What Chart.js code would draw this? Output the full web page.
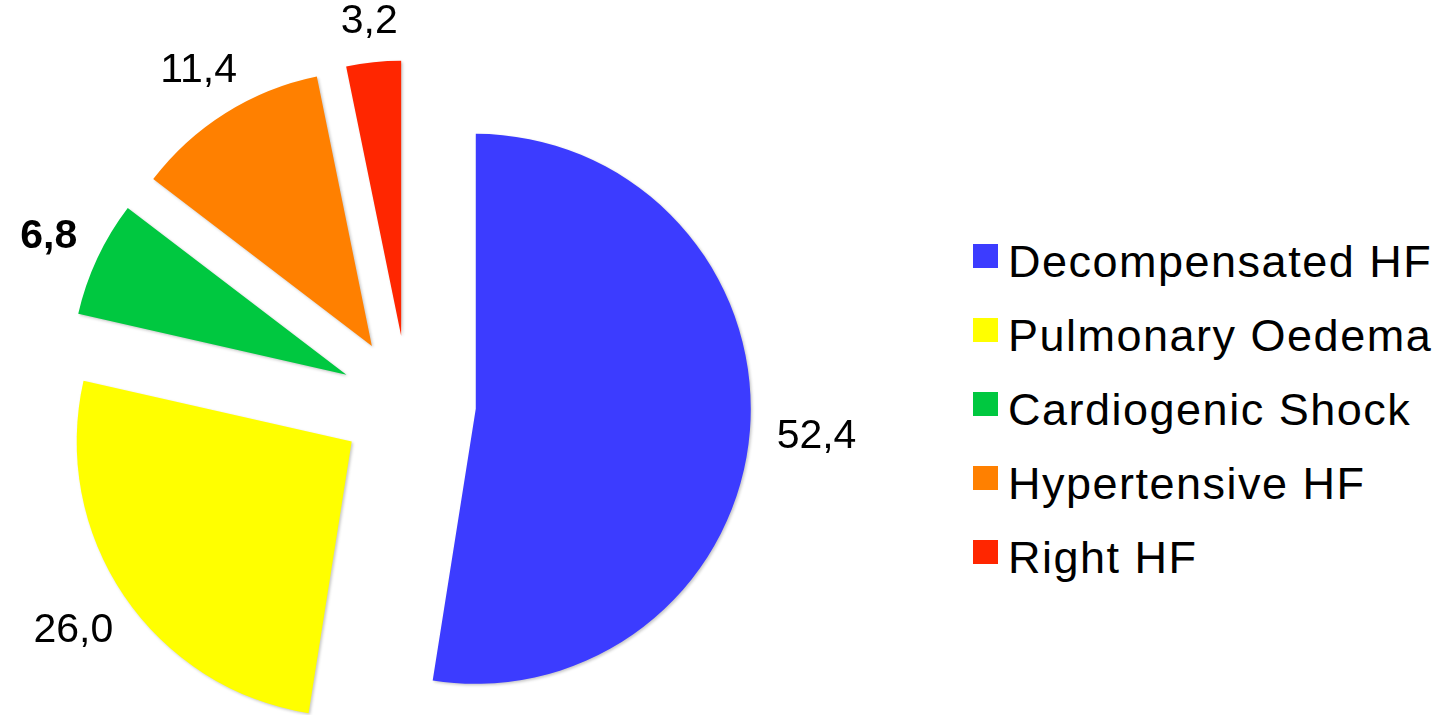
<!DOCTYPE html>
<html>
<head>
<meta charset="utf-8">
<title>Heart failure presentation</title>
<script src="https://cdn.jsdelivr.net/npm/chart.js@4.4.1/dist/chart.umd.min.js"></script>
<style>
  html, body { margin: 0; padding: 0; background: #fff; }
  #stage { position: relative; width: 1441px; height: 715px; overflow: hidden; }
  #hfChart { position: absolute; left: 0; top: 0; }
  #hfLegend { position: absolute; left: 973px; top: 0; font-family: "Liberation Sans", Arial, Helvetica, sans-serif; }
  .lg-row { position: absolute; left: 0; height: 45px; white-space: nowrap; }
  .lg-box { position: absolute; left: 0; top: 5px; width: 25px; height: 24px; }
  .lg-text { position: absolute; left: 35px; top: 0; font-size: 45px; line-height: 45px; letter-spacing: 1.5px; color: #000; }
</style>
</head>
<body>
<div id="stage">
  <canvas id="hfChart" width="940" height="715"></canvas>
  <div id="hfLegend"></div>
</div>
<script>
// ---- data ----
const categories  = ['Decompensated HF', 'Pulmonary Oedema', 'Cardiogenic Shock', 'Hypertensive HF', 'Right HF'];
const shares      = [52.4, 26.0, 6.8, 11.4, 3.2];
const sliceColors = ['#3c3cff', '#ffff00', '#00c840', '#ff8000', '#ff2600'];
const boldValue   = [false, false, true, false, false];

const EXPLODE   = 68;   // how far each slice is pulled away from the centre
const LABEL_GAP = 27;   // space between a slice rim and its value label

// every slice is pushed out along its own bisector, with a soft drop shadow
const baseArcDraw = Chart.ArcElement.prototype.draw;
Chart.ArcElement.prototype.draw = function (ctx) {
  const mid = (this.startAngle + this.endAngle) / 2;
  ctx.save();
  ctx.translate(Math.cos(mid) * EXPLODE, Math.sin(mid) * EXPLODE);
  ctx.shadowColor = 'rgba(0,0,0,0.22)';
  ctx.shadowBlur = 3;
  ctx.shadowOffsetX = 1.5;
  ctx.shadowOffsetY = 1.5;
  baseArcDraw.call(this, ctx);
  ctx.restore();
};

// value labels ("52,4") outside each exploded slice
const valueLabels = {
  id: 'valueLabels',
  afterDatasetsDraw(chart) {
    const ctx = chart.ctx;
    const meta = chart.getDatasetMeta(0);
    meta.data.forEach((arc, i) => {
      const mid = (arc.startAngle + arc.endAngle) / 2;
      const ux = Math.cos(mid), uy = Math.sin(mid);
      const text = shares[i].toFixed(1).replace('.', ',');
      ctx.save();
      ctx.font = (boldValue[i] ? 'bold ' : '') + '41px "Liberation Sans", Arial, Helvetica, sans-serif';
      const hw = ctx.measureText(text).width / 2;
      const hh = 15;
      const r = arc.outerRadius + EXPLODE + LABEL_GAP + Math.hypot(hw * ux, hh * uy);
      ctx.fillStyle = '#000';
      ctx.textAlign = 'center';
      ctx.textBaseline = 'middle';
      ctx.fillText(text, arc.x + ux * r, arc.y + uy * r + 1);
      ctx.restore();
    });
  }
};

new Chart(document.getElementById('hfChart'), {
  type: 'pie',
  data: {
    labels: categories,
    datasets: [{
      data: shares,
      backgroundColor: sliceColors,
      borderWidth: 0,
      radius: 275,
      clip: false
    }]
  },
  plugins: [valueLabels],
  options: {
    responsive: false,
    animation: false,
    events: [],
    layout: { padding: { left: 0, right: 124, top: 92, bottom: 0 } },
    plugins: {
      legend: { display: false },
      tooltip: { enabled: false }
    }
  }
});

// legend built from the same category / colour lists
const legendEl = document.getElementById('hfLegend');
legendEl.innerHTML = categories.map((c, i) =>
  '<div class="lg-row" style="top:' + (239 + i * 74) + 'px">'
  + '<span class="lg-box" style="background:' + sliceColors[i] + '"></span>'
  + '<span class="lg-text">' + c + '</span>'
  + '</div>'
).join('');
</script>
</body>
</html>
